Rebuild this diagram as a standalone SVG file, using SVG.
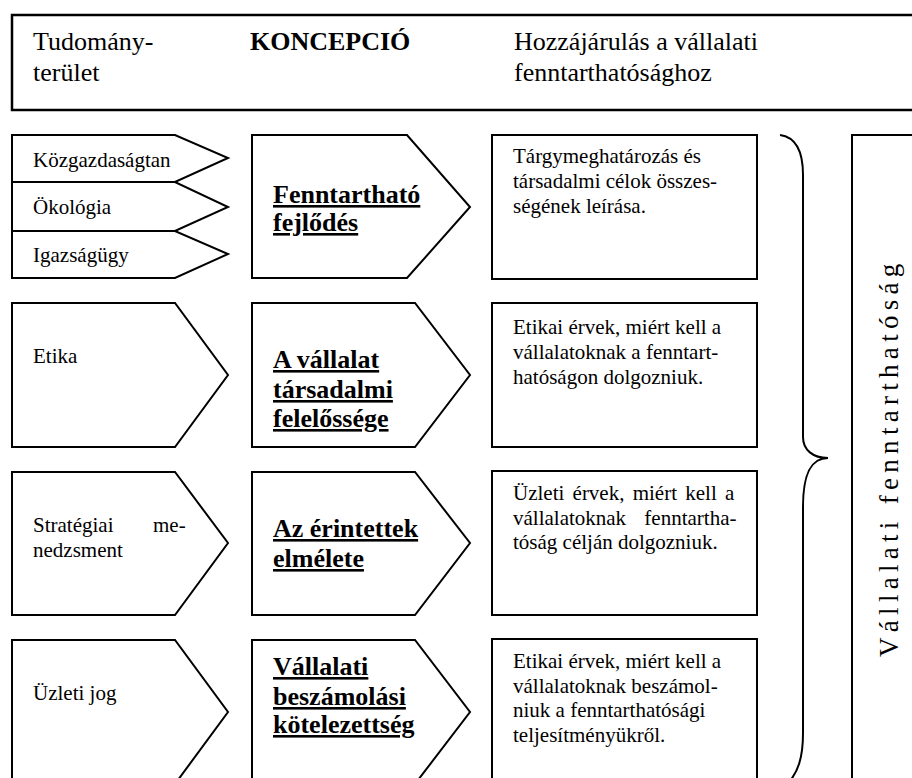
<svg xmlns="http://www.w3.org/2000/svg" width="912" height="778" viewBox="0 0 912 778">
<style>
  .shape { fill: #ffffff; stroke: #000000; stroke-width: 2; stroke-linejoin: miter; }
  .hdr { fill: none; stroke: #000000; stroke-width: 2.5; }
  .t { font-family: "Liberation Serif", "Times New Roman", serif; fill: #000; }
  .h { font-size: 26px; }
  .s { font-size: 21px; }
  .c { font-size: 26px; font-weight: bold; text-decoration: underline; text-decoration-thickness: 3px; text-underline-offset: 3px; }
  .v { font-size: 27px; letter-spacing: 5.3px; }
  .brace { fill: none; stroke: #000; stroke-width: 2; }
</style>
<rect width="912" height="778" fill="#ffffff"/>

<g id="header">
  <rect class="hdr" x="12" y="15" width="920" height="95"/>
  <text class="t h" x="33" y="50">Tudomány-</text>
  <text class="t h" x="33" y="81">terület</text>
  <text class="t h" x="250" y="50" font-weight="bold">KONCEPCIÓ</text>
  <text class="t h" x="514" y="50">Hozzájárulás a vállalati</text>
  <text class="t h" x="514" y="81">fenntarthatósághoz</text>
</g>

<!-- Row 1 -->
<g id="kozgazdasagtan">
  <polygon class="shape" points="12,135 175,135 228,158 175,182 12,182"/>
  <text class="t s" x="33" y="167">Közgazdaságtan</text>
</g>
<g id="okologia">
  <polygon class="shape" points="12,182 175,182 228,207 175,231 12,231"/>
  <text class="t s" x="33" y="214">Ökológia</text>
</g>
<g id="igazsagugy">
  <polygon class="shape" points="12,231 175,231 228,254 175,278 12,278"/>
  <text class="t s" x="33" y="262">Igazságügy</text>
</g>
<g id="fenntarthato-fejlodes">
  <polygon class="shape" points="252,135 407,135 470,207 407,278 252,278"/>
  <text class="t c" x="273" y="203">Fenntartható</text>
  <text class="t c" x="273" y="231">fejlődés</text>
</g>
<g id="desc1">
  <rect class="shape" x="492" y="135" width="265" height="144"/>
  <text class="t s" x="513" y="163">Tárgymeghatározás és</text>
  <text class="t s" x="513" y="188">társadalmi célok összes-</text>
  <text class="t s" x="513" y="213">ségének leírása.</text>
</g>

<!-- Row 2 -->
<g id="etika">
  <polygon class="shape" points="12,303 175,303 228,375 175,447 12,447"/>
  <text class="t s" x="33" y="363">Etika</text>
</g>
<g id="vallalat-tarsadalmi-felelossege">
  <polygon class="shape" points="252,303 415,303 470,375 415,447 252,447"/>
  <text class="t c" x="273" y="368">A vállalat</text>
  <text class="t c" x="273" y="398">társadalmi</text>
  <text class="t c" x="273" y="427">felelőssége</text>
</g>
<g id="desc2">
  <rect class="shape" x="492" y="303" width="265" height="144"/>
  <text class="t s" x="513" y="334">Etikai érvek, miért kell a</text>
  <text class="t s" x="513" y="359">vállalatoknak a fenntart-</text>
  <text class="t s" x="513" y="384">hatóságon dolgozniuk.</text>
</g>

<!-- Row 3 -->
<g id="strategiai-menedzsment">
  <polygon class="shape" points="12,472 175,472 228,543 175,615 12,615"/>
  <text class="t s" x="33" y="532">Stratégiai<tspan x="153">me-</tspan></text>
  <text class="t s" x="33" y="557">nedzsment</text>
</g>
<g id="erintettek-elmelete">
  <polygon class="shape" points="252,472 415,472 470,543 415,615 252,615"/>
  <text class="t c" x="273" y="537">Az érintettek</text>
  <text class="t c" x="273" y="567">elmélete</text>
</g>
<g id="desc3">
  <rect class="shape" x="492" y="471" width="265" height="144"/>
  <text class="t s" x="513" y="500" word-spacing="3">Üzleti érvek, miért kell a</text>
  <text class="t s" x="513" y="525" word-spacing="13">vállalatoknak fenntartha-</text>
  <text class="t s" x="513" y="549">tóság célján dolgozniuk.</text>
</g>

<!-- Row 4 -->
<g id="uzleti-jog">
  <polygon class="shape" points="12,640 175,640 228,712 175,784 12,784"/>
  <text class="t s" x="33" y="700">Üzleti jog</text>
</g>
<g id="vallalati-beszamolasi-kotelezettseg">
  <polygon class="shape" points="252,640 415,640 470,712 415,784 252,784"/>
  <text class="t c" x="273" y="675">Vállalati</text>
  <text class="t c" x="273" y="705">beszámolási</text>
  <text class="t c" x="273" y="733">kötelezettség</text>
</g>
<g id="desc4">
  <rect class="shape" x="492" y="639" width="265" height="170"/>
  <text class="t s" x="513" y="668">Etikai érvek, miért kell a</text>
  <text class="t s" x="513" y="693">vállalatoknak beszámol-</text>
  <text class="t s" x="513" y="717">niuk a fenntarthatósági</text>
  <text class="t s" x="513" y="742">teljesítményükről.</text>
</g>

<!-- Right summary -->
<g id="vallalati-fenntarthatosag">
  <rect class="shape" x="852" y="135" width="100" height="700"/>
  <text class="t v" transform="translate(898,657) rotate(-90)">Vállalati fenntarthatóság</text>
</g>

<g id="connectors">
  <path class="brace" d="M780,135 C795,137 803,150 803,175 L803,437 C803,450 813,458 828,458 C813,458 803,470 803,507 L803,733 C803,760 797,772 790,781"/>
</g>
</svg>
